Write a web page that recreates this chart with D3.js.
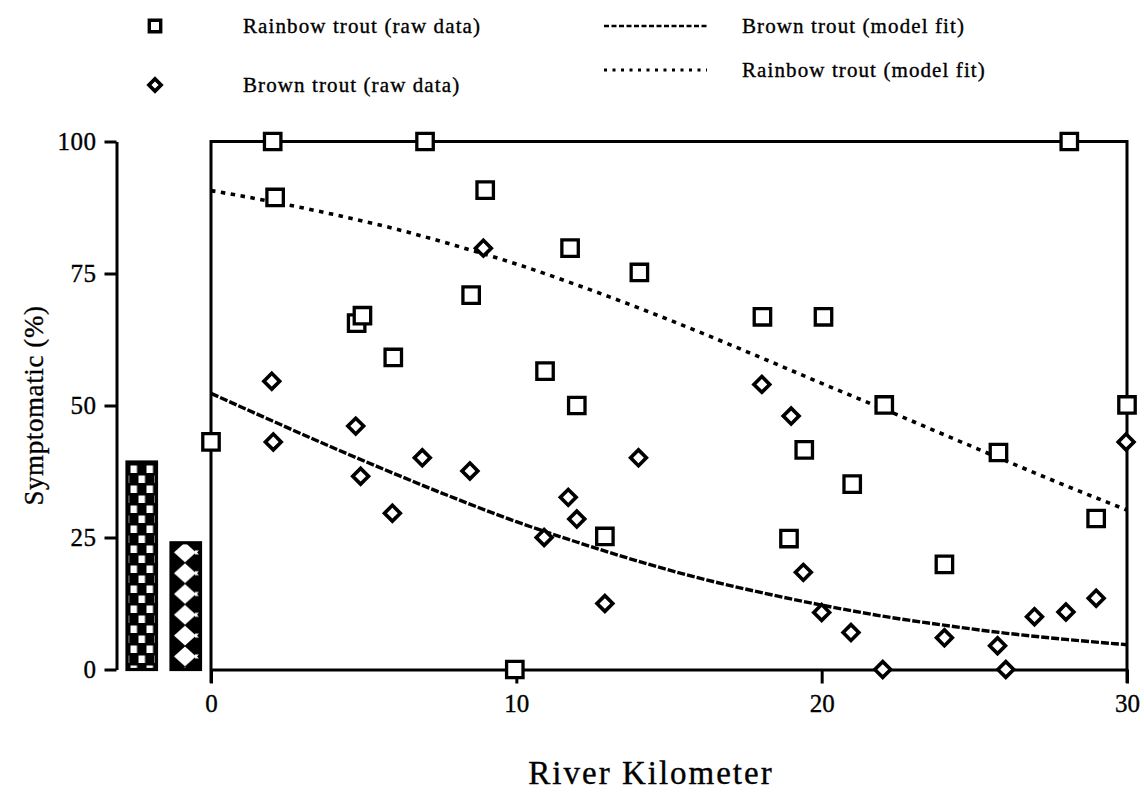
<!DOCTYPE html>
<html>
<head>
<meta charset="utf-8">
<script src="https://cdn.jsdelivr.net/npm/d3@7"></script>
<style>
  html, body { margin: 0; padding: 0; background: #fff; }
  svg { display: block; }
  text { font-family: "Liberation Serif", "Times New Roman", serif; fill: #000; stroke: #000; stroke-width: 0.35px; }
</style>
</head>
<body>
<svg id="chart" width="1144" height="796"></svg>
<script>
// ---- data -------------------------------------------------------------
// Rainbow trout, raw data: river kilometer and percent symptomatic
const rainbowKm  = [0, 2.02, 2.1, 7.01, 8.98, 8.52, 4.77, 4.96, 5.97, 10.94, 11.76, 14.03, 11.98, 12.9, 9.95,
                    18.06, 20.06, 19.43, 22.05, 21.0, 25.79, 28.99, 18.93, 24.02, 28.11, 30];
const rainbowPct = [43.1, 100, 89.4, 100, 90.8, 70.9, 65.6, 67.0, 59.1, 56.5, 79.8, 75.2, 50.0, 25.2, 0,
                    66.8, 66.8, 41.6, 50.1, 35.1, 41.1, 28.6, 24.8, 19.9, 100, 50.1];

// Brown trout, raw data
const brownKm  = [1.99, 2.04, 4.74, 4.90, 6.92, 8.48, 5.94, 8.92, 14.0, 11.70, 11.98, 10.91, 12.9,
                  18.04, 19.0, 19.4, 20.0, 20.96, 24.02, 25.76, 26.97, 28.0, 28.99, 22.0, 26.03, 29.97];
const brownPct = [54.6, 43.1, 46.1, 36.6, 40.1, 37.6, 29.6, 79.8, 40.1, 32.6, 28.5, 25.0, 12.5,
                  54.0, 48.0, 18.4, 10.8, 7.0, 6.0, 4.5, 10.0, 10.9, 13.5, 0, 0, 43.1];

// Model fits, sampled along the river
const fitKm         = [0, 2, 4, 6, 8, 10, 12, 14, 16, 18, 20, 22, 24, 26, 28, 30];
const rainbowFitPct = [90.7, 88.6, 86.2, 83.5, 80.3, 76.8, 72.8, 68.5, 63.9, 59.1, 54.2, 49.4, 44.5, 39.6, 34.8, 30.2];
const brownFitPct   = [52.3, 47.1, 42.0, 37.1, 32.4, 28.0, 24.1, 20.5, 17.3, 14.6, 12.2, 10.1, 8.4, 6.9, 5.7, 4.7];

// Reference bars beside the axis (patterned)
const refBarKeys = ["checker", "diamond"];
const refBarPct  = [39.3, 24.0];

// Axis ticks
const xTicks = [0, 10, 20, 30];
const yTicks = [0, 25, 50, 75, 100];

// Legend entries
const legendMarkers = ["Rainbow trout (raw data)", "Brown trout (raw data)"];
const legendLines   = ["Brown trout (model fit)", "Rainbow trout (model fit)"];

// ---- layout -----------------------------------------------------------
const svg = d3.select("#chart");
const plotL = 211, plotR = 1127, plotT = 141.5, plotB = 669.5;
const x = d3.scaleLinear().domain([0, 30]).range([plotL, plotR]);
const y = d3.scaleLinear().domain([0, 100]).range([plotB, plotT]);
const yAxisX = 116.5;
const SW = 3;

// ---- patterns for the reference bars -----------------------------------
const defs = svg.append("defs");
const chk = defs.append("pattern").attr("id", "pat-checker")
  .attr("patternUnits", "userSpaceOnUse").attr("width", 16).attr("height", 20)
  .attr("x", 129.5).attr("y", 464);
chk.append("rect").attr("width", 16).attr("height", 20).attr("fill", "#000");
chk.append("rect").attr("x", 1).attr("y", 1.5).attr("width", 6.5).attr("height", 7.5).attr("fill", "#fff");
chk.append("rect").attr("x", 9).attr("y", 11.5).attr("width", 6.5).attr("height", 7.5).attr("fill", "#fff");

const dia = defs.append("pattern").attr("id", "pat-diamond")
  .attr("patternUnits", "userSpaceOnUse").attr("width", 30).attr("height", 20.8)
  .attr("x", 171).attr("y", 542);
dia.append("rect").attr("width", 30).attr("height", 20.8).attr("fill", "#000");
dia.append("path").attr("d", "M14,0.5 L25,10.4 L14,20.3 L3,10.4 Z").attr("fill", "#fff");
dia.append("path").attr("d", "M24,8.4 L28,8.4 L26,10.4 L28,12.4 L24,12.4 Z").attr("fill", "#fff");

const bx = d3.scaleBand().domain(refBarKeys).range([127, 200.5]).paddingInner(0.33);
svg.append("g").selectAll("rect").data(refBarKeys).join("rect")
  .attr("x", d => bx(d))
  .attr("width", bx.bandwidth())
  .attr("y", (d, i) => y(refBarPct[i]))
  .attr("height", (d, i) => y(0) - y(refBarPct[i]))
  .attr("fill", d => `url(#pat-${d})`)
  .attr("stroke", "#000").attr("stroke-width", 3.2);

// ---- left value axis ---------------------------------------------------
const yAxis = svg.append("g").attr("transform", `translate(${yAxisX},0)`)
  .call(d3.axisLeft(y).tickValues(yTicks).tickSize(12).tickPadding(8).tickSizeOuter(0));
yAxis.select(".domain").attr("stroke-width", SW);
yAxis.selectAll(".tick line").attr("stroke-width", SW);
yAxis.selectAll(".tick text").attr("font-size", 25).attr("font-family", "Liberation Serif")
  .attr("letter-spacing", "0.5px");

svg.append("text")
  .attr("transform", `translate(43,${(plotT + plotB) / 2}) rotate(-90)`)
  .attr("text-anchor", "middle").attr("font-size", 27).attr("letter-spacing", "0.6px")
  .text("Symptomatic (%)");

// ---- plot frame and river-kilometer axis -------------------------------
const frame = svg.append("g").attr("stroke", "#000").attr("stroke-width", SW).attr("fill", "none");
frame.append("path").attr("d", `M${plotL},683 V${plotT} H${plotR} V683`);

const xAxis = svg.append("g").attr("transform", `translate(0,${plotB})`)
  .call(d3.axisBottom(x).tickValues(xTicks).tickSize(14).tickPadding(11).tickSizeOuter(0));
xAxis.select(".domain").attr("stroke-width", SW);
xAxis.selectAll(".tick line").attr("stroke-width", SW);
xAxis.selectAll(".tick text").attr("font-size", 25).attr("font-family", "Liberation Serif");

svg.append("text")
  .attr("x", 651).attr("y", 784)
  .attr("text-anchor", "middle").attr("font-size", 33).attr("letter-spacing", "2px")
  .text("River Kilometer");

// ---- model fit curves --------------------------------------------------
const fitLine = vals => d3.line().curve(d3.curveMonotoneX)
  .x((d, i) => x(fitKm[i])).y((d, i) => y(vals[i]))(vals);

svg.append("path").attr("d", fitLine(rainbowFitPct))
  .attr("fill", "none").attr("stroke", "#000").attr("stroke-width", 3.6)
  .attr("stroke-dasharray", "4.5 5.5");
svg.append("path").attr("d", fitLine(brownFitPct))
  .attr("fill", "none").attr("stroke", "#000").attr("stroke-width", 3.4)
  .attr("stroke-dasharray", "8 2");

// ---- raw data markers --------------------------------------------------
const sq = d3.symbol().type(d3.symbolSquare).size(270);
const dm = d3.symbol().type(d3.symbolSquare).size(125);

svg.append("g").selectAll("path").data(brownKm).join("path")
  .attr("d", dm)
  .attr("transform", (d, i) => `translate(${x(d)},${y(brownPct[i])}) rotate(45)`)
  .attr("fill", "#fff").attr("stroke", "#000").attr("stroke-width", 3.6);

svg.append("g").selectAll("path").data(rainbowKm).join("path")
  .attr("d", sq)
  .attr("transform", (d, i) => `translate(${x(d)},${y(rainbowPct[i])})`)
  .attr("fill", "#fff").attr("stroke", "#000").attr("stroke-width", 3.3);

// ---- legend ------------------------------------------------------------
const leg = svg.append("g");
const legRows = [26, 85];
leg.append("path").attr("d", d3.symbol().type(d3.symbolSquare).size(130))
  .attr("transform", `translate(155,${legRows[0]})`)
  .attr("fill", "#fff").attr("stroke", "#000").attr("stroke-width", 3.4);
leg.append("path").attr("d", d3.symbol().type(d3.symbolSquare).size(75))
  .attr("transform", `translate(155,${legRows[1]}) rotate(45)`)
  .attr("fill", "#fff").attr("stroke", "#000").attr("stroke-width", 3.6);
leg.selectAll("text.m").data(legendMarkers).join("text").attr("class", "m")
  .attr("x", 243).attr("y", (d, i) => legRows[i] + 7)
  .attr("font-size", 21).attr("letter-spacing", "1.1px").text(d => d);

const lineRows = [26, 70];
leg.append("line").attr("x1", 604).attr("x2", 707).attr("y1", lineRows[0]).attr("y2", lineRows[0])
  .attr("stroke", "#000").attr("stroke-width", 2.6).attr("stroke-dasharray", "5 2.5");
leg.append("line").attr("x1", 604).attr("x2", 707).attr("y1", lineRows[1]).attr("y2", lineRows[1])
  .attr("stroke", "#000").attr("stroke-width", 2.8).attr("stroke-dasharray", "3 5.5");
leg.selectAll("text.l").data(legendLines).join("text").attr("class", "l")
  .attr("x", 742).attr("y", (d, i) => lineRows[i] + 7)
  .attr("font-size", 21).attr("letter-spacing", "1.1px").text(d => d);
</script>
</body>
</html>
